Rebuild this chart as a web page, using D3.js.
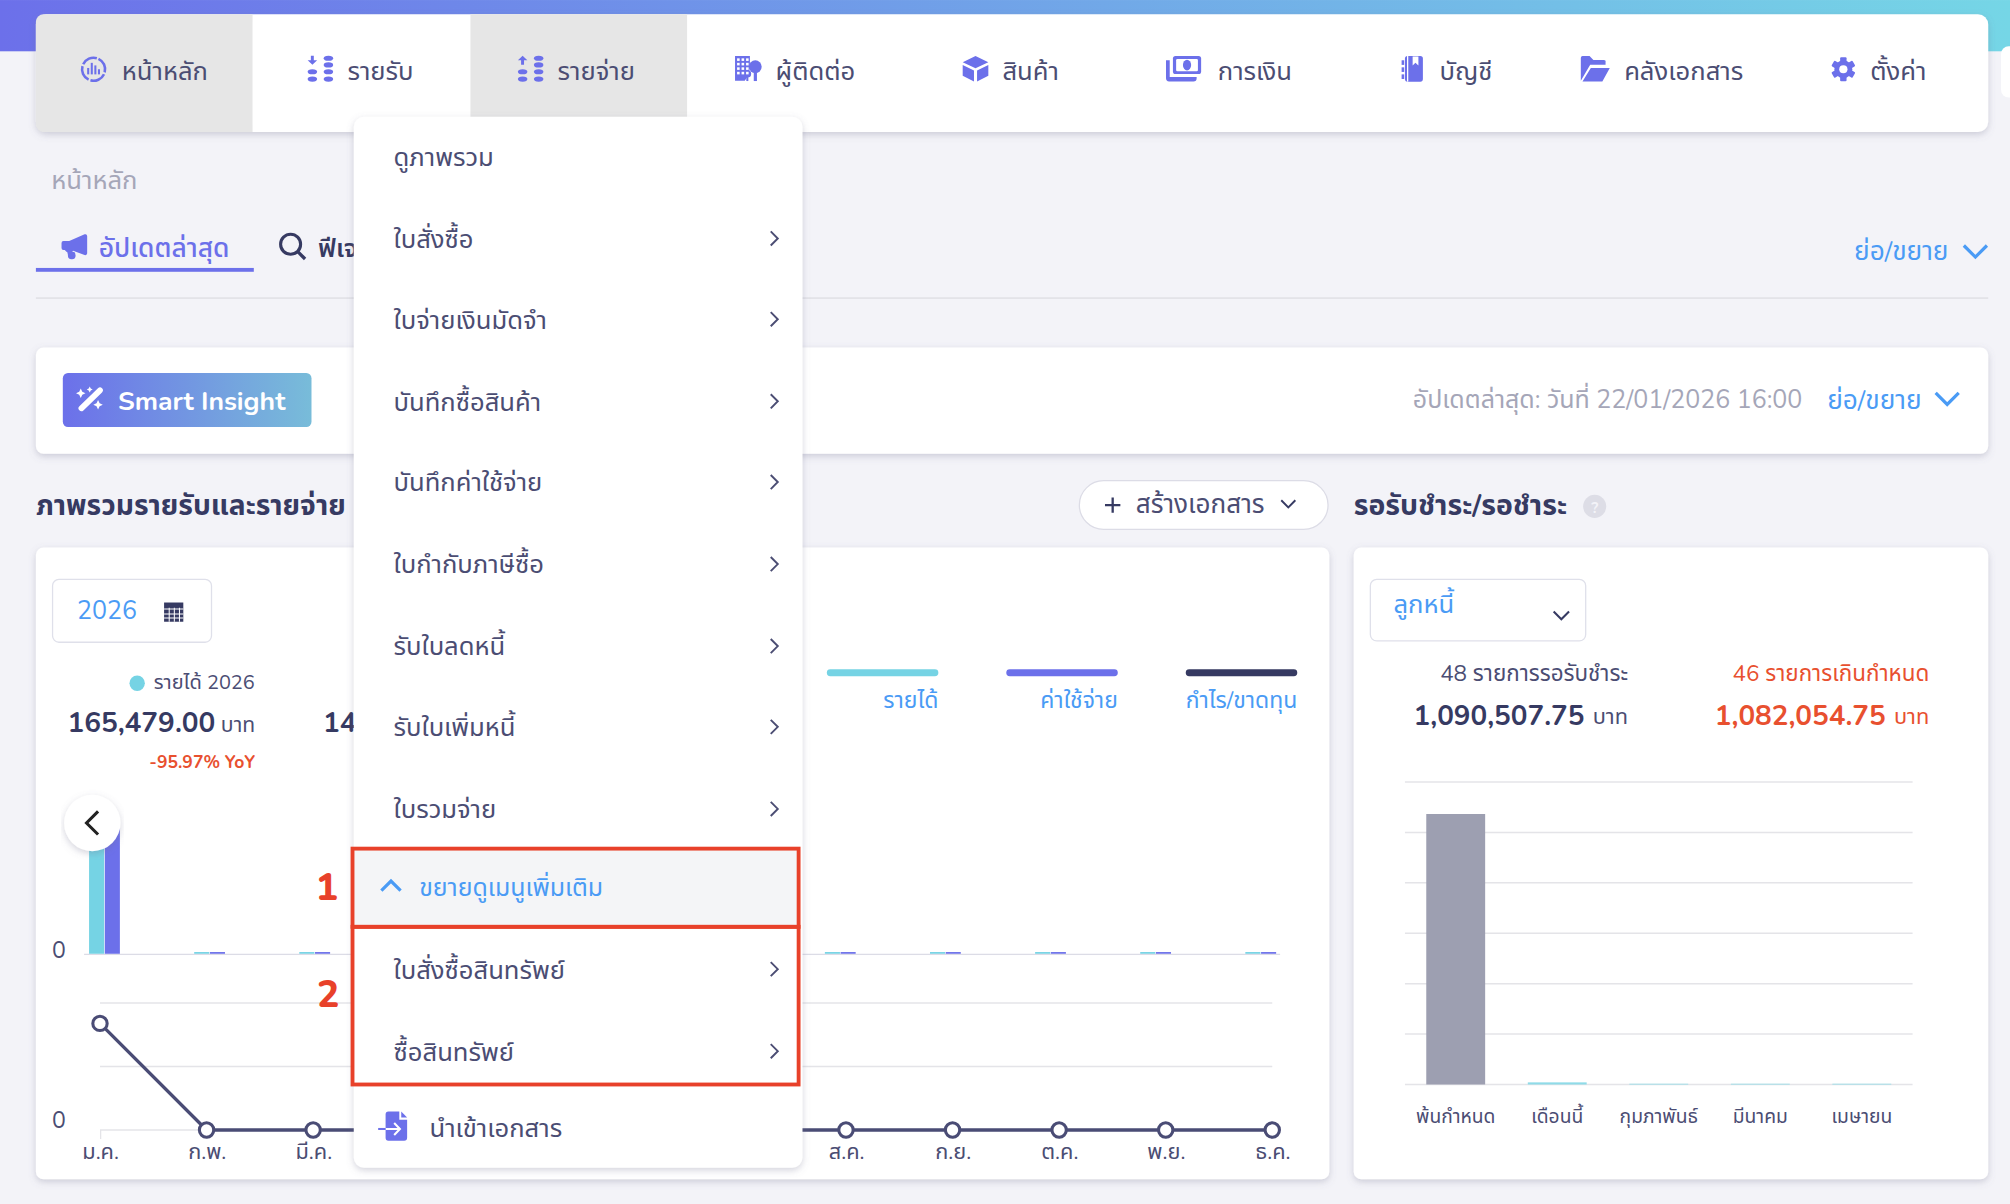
<!DOCTYPE html>
<html>
<head>
<meta charset="utf-8">
<style>
    html, body { margin: 0; padding: 0; background: #f3f3f8; }
    svg { display: block; }
    text { font-family: "Nunito", "Noto Sans Thai", "Noto Sans", "Open Sans", sans-serif; }
</style>
</head>
<body>
<div id="page"></div>
<script src="https://d3js.org/d3.v7.min.js"></script>
<script type="text/javascript">
    // chart data
    var months = ["ม.ค.", "ก.พ.", "มี.ค.", "เม.ย.", "พ.ค.", "มิ.ย.", "ก.ค.", "ส.ค.", "ก.ย.", "ต.ค.", "พ.ย.", "ธ.ค."];
    var incomeValues = [165479, 2000, 2000, 2000, 2000, 2000, 2000, 2000, 2000, 2000, 2000, 2000];
    var expenseValues = [148679, 2000, 2000, 2000, 2000, 2000, 2000, 2000, 2000, 2000, 2000, 2000];
    var profitValues = [16800, 0, 0, 0, 0, 0, 0, 0, 0, 0, 0, 0];
    var profitTicks = [0, 10000, 20000];

    var dueLabels = ["พ้นกำหนด", "เดือนนี้", "กุมภาพันธ์", "มีนาคม", "เมษายน"];
    var dueValues = [1073000, 8453, 3000, 3000, 3000];
    var dueTicks = [0, 200000, 400000, 600000, 800000, 1000000, 1200000];

    // page text
    var navLabels = ["หน้าหลัก", "รายรับ", "รายจ่าย", "ผู้ติดต่อ", "สินค้า", "การเงิน", "บัญชี", "คลังเอกสาร", "ตั้งค่า"];
    var navTextX = [95, 271, 435, 605, 782, 950, 1123, 1267, 1459];
    var navIconX = [73, 250, 414, 584, 761, 923, 1102, 1244, 1438];
    var menuLabels = ["ดูภาพรวม", "ใบสั่งซื้อ", "ใบจ่ายเงินมัดจำ", "บันทึกซื้อสินค้า", "บันทึกค่าใช้จ่าย", "ใบกำกับภาษีซื้อ", "รับใบลดหนี้", "รับใบเพิ่มหนี้", "ใบรวมจ่าย"];
    var menuY = [122, 186, 249, 313, 376, 440, 504, 567, 631];
    var extraLabels = ["ใบสั่งซื้อสินทรัพย์", "ซื้อสินทรัพย์"];
    var extraY = [756, 820];
    var legendLabels = ["รายได้", "ค่าใช้จ่าย", "กำไร/ขาดทุน"];
    var legendColors = ["#75d3e4", "#6c70ea", "#363a62"];
    var legendEnd = [732, 872, 1012];

    var w = 2010, h = 1204;
    var vw = 1568, vh = 939.2;
    var navy = "#363a62", purple = "#6c70ea", cyan = "#75d3e4", blue = "#4a9bf5", red = "#e8502f", grey = "#a5a6b8", ink = "#4b4d73";

    var svg = d3.select("#page").append("svg")
        .attr("width", w).attr("height", h)
        .attr("viewBox", "0 0 " + vw + " " + vh);

    var defs = svg.append("defs");
    var topGrad = defs.append("linearGradient").attr("id", "topGrad");
    topGrad.append("stop").attr("offset", "0%").attr("stop-color", "#6c70ea");
    topGrad.append("stop").attr("offset", "100%").attr("stop-color", "#75d6e6");
    var btn = defs.append("linearGradient").attr("id", "btnGrad");
    btn.append("stop").attr("offset", "0%").attr("stop-color", "#6c70ea");
    btn.append("stop").attr("offset", "100%").attr("stop-color", "#78bcd9");
    var fl = defs.append("filter").attr("id", "shadow").attr("x", "-5%").attr("y", "-10%").attr("width", "110%").attr("height", "125%");
    fl.append("feDropShadow").attr("dx", 0).attr("dy", 2).attr("stdDeviation", 3).attr("flood-color", "#70708a").attr("flood-opacity", 0.3);

    function label(g, str, x, y, size, color, opts) {
        opts = opts || {};
        return g.append("text").text(str)
            .attr("x", x).attr("y", y + 0.7)
            .attr("font-size", size)
            .attr("fill", color)
            .attr("dominant-baseline", "central")
            .attr("text-anchor", opts.anchor || "start")
            .attr("font-weight", opts.weight || 400);
    }

    function card(x, y, width, height, r) {
        svg.append("rect").attr("x", x).attr("y", y).attr("width", width).attr("height", height)
            .attr("rx", r || 6).attr("fill", "#fff").attr("filter", "url(#shadow)");
    }

    function chevron(g, x, y, size, dir, color, sw) {
        var d;
        if (dir == "down") d = "M" + (x - size) + "," + (y - size / 2) + "L" + x + "," + (y + size / 2) + "L" + (x + size) + "," + (y - size / 2);
        if (dir == "up") d = "M" + (x - size) + "," + (y + size / 2) + "L" + x + "," + (y - size / 2) + "L" + (x + size) + "," + (y + size / 2);
        if (dir == "right") d = "M" + (x - size / 2) + "," + (y - size) + "L" + (x + size / 2) + "," + y + "L" + (x - size / 2) + "," + (y + size);
        if (dir == "left") d = "M" + (x + size / 2) + "," + (y - size) + "L" + (x - size / 2) + "," + y + "L" + (x + size / 2) + "," + (y + size);
        g.append("path").attr("d", d).attr("fill", "none").attr("stroke", color).attr("stroke-width", sw || 1.5);
    }

    // background strip
    svg.append("rect").attr("width", vw).attr("height", 40).attr("fill", "url(#topGrad)");
    svg.append("rect").attr("x", 1561).attr("y", 36).attr("width", 20).attr("height", 40).attr("rx", 6).attr("fill", "#fff");

    // top nav
    card(28, 11, 1523, 92, 8);
    svg.append("path").attr("d", "M34,11H197V103H34a6,6 0 0 1 -6,-6V17a6,6 0 0 1 6,-6Z").attr("fill", "#e6e6e6");
    svg.append("rect").attr("x", 367).attr("y", 11).attr("width", 169).attr("height", 92).attr("fill", "#e6e6e6");
    var nav = svg.append("g");
    navLabels.forEach(function (d, i) {
        label(nav, d, navTextX[i], 55, 20, ink);
    });

    // nav icons, centred on navIconX at y = 54
    var ic = nav.append("g").attr("fill", purple);
    function icon(i) { return ic.append("g").attr("transform", "translate(" + navIconX[i] + ",54)"); }
    var i0 = icon(0);
    i0.append("circle").attr("r", 9).attr("fill", "none").attr("stroke", purple).attr("stroke-width", 2)
        .attr("stroke-dasharray", "12.5 1.6").attr("transform", "rotate(-65)");
    [-4.2, -1.4, 1.4, 4.2].forEach(function (d, i) {
        var hh = [5, 9, 7, 4][i];
        i0.append("rect").attr("x", d - 0.8).attr("y", 4 - hh).attr("width", 1.6).attr("height", hh);
    });
    [1, 2].forEach(function (k) {
        var g = icon(k);
        var up = k == 2;
        g.append("path").attr("d", up ? "M-7.5,-3.5V-7H-10L-6.3,-10.5L-2.6,-7H-5.2V-3.5Z" : "M-7.5,-10.5V-7H-10L-6.3,-3.5L-2.6,-7H-5.2V-10.5Z");
        [2, 7.7].forEach(function (y) {
            g.append("ellipse").attr("cx", -6.3).attr("cy", y).attr("rx", 3.7).attr("ry", 2);
        });
        [-8.6, -3.4, 2, 7.7].forEach(function (y) {
            g.append("ellipse").attr("cx", 6.2).attr("cy", y).attr("rx", 3.7).attr("ry", 2);
        });
    });
    var i3 = icon(3);
    i3.append("path").attr("d", "M-10.6,-10.3H1V-1A5,5 0 0 0 1,3L-3,9H-10.6Z");
    i3.append("circle").attr("cx", 5.2).attr("cy", -2).attr("r", 5);
    i3.append("path").attr("d", "M4,2H6.5V9.2H4Z");
    i3.append("circle").attr("cx", -1).attr("cy", 3.5).attr("r", 3);
    i3.append("path").attr("d", "M-1.8,5H-0.2V9.2H-1.8Z");
    [-8.5, -5, -1.5, 2].forEach(function (y) {
        [-9, -5.5, -2].forEach(function (x) {
            i3.append("rect").attr("x", x).attr("y", y).attr("width", 2).attr("height", 2).attr("fill", "#fff");
        });
    });
    icon(4).append("path").attr("d", "M0,-10.3L10,-5.5L0,-0.7L-10,-5.5ZM-10,-3.3L-1.2,1V9.5L-10,5ZM10,-3.3L1.2,1V9.5L10,5Z");
    var i5 = icon(5);
    i5.append("path").attr("d", "M-13.4,-7V7A2.5,2.5 0 0 0 -11,9.5H8A2.5,2.5 0 0 0 10.5,7V6H-10.5V-7Z");
    i5.append("rect").attr("x", -8).attr("y", -10.3).attr("width", 22).attr("height", 14).attr("rx", 2);
    i5.append("rect").attr("x", -5.5).attr("y", -8).attr("width", 17).attr("height", 9.5).attr("rx", 1).attr("fill", "#fff");
    i5.append("ellipse").attr("cx", 3).attr("cy", -3.3).attr("rx", 3.2).attr("ry", 4.2);
    var i6 = icon(6);
    i6.append("rect").attr("x", -6).attr("y", -10.3).attr("width", 14).attr("height", 20).attr("rx", 2);
    i6.append("rect").attr("x", -8.6).attr("y", -7).attr("width", 2).attr("height", 3.6);
    i6.append("rect").attr("x", -8.6).attr("y", -1.5).attr("width", 2).attr("height", 3.6);
    i6.append("rect").attr("x", -8.6).attr("y", 4).attr("width", 2).attr("height", 3.6);
    i6.append("rect").attr("x", -4.4).attr("y", -10.3).attr("width", 1).attr("height", 20).attr("fill", "#fff");
    i6.append("path").attr("d", "M0,-10H4.5V-3L2.2,-5L0,-3Z").attr("fill", "#fff");
    icon(7).append("path").attr("d", "M-10.8,9V-9A1.5,1.5 0 0 1 -9,-10.3H-4L-1,-7.3H7A1.5,1.5 0 0 1 8.5,-5.5V-3.5H-3.5ZM-9.5,9.5L-3,-1H11.8L6,9.5Z");
    var i8 = icon(8);
    i8.append("circle").attr("r", 7);
    d3.range(6).forEach(function (k) {
        i8.append("rect").attr("x", -2.5).attr("y", -9.4).attr("width", 5).attr("height", 5).attr("rx", 0.8).attr("transform", "rotate(" + k * 60 + ")");
    });
    i8.append("circle").attr("r", 3.2).attr("fill", "#fff");

    // breadcrumb and tabs
    label(svg, "หน้าหลัก", 40, 140, 20, grey);
    label(svg, "อัปเดตล่าสุด", 77, 193, 20.6, purple, { weight: 500 });
    svg.append("path").attr("d", "M48,189.5A1.5,1.5 0 0 1 49.5,188H54L66,182.8A1.5,1.5 0 0 1 68,184V197.5A1.5,1.5 0 0 1 66,199L57,195.5A4,4 0 0 1 50.5,195H49.5A1.5,1.5 0 0 1 48,193.5Z").attr("fill", purple);
    svg.append("path").attr("d", "M52,194.5L53,199A3,3 0 0 0 59,199.5L58.5,197").attr("fill", purple);
    svg.append("rect").attr("x", 28).attr("y", 209).attr("width", 170).attr("height", 3).attr("fill", purple);
    svg.append("circle").attr("cx", 226.7).attr("cy", 190.5).attr("r", 7.8).attr("fill", "none").attr("stroke", navy).attr("stroke-width", 2.4);
    svg.append("path").attr("d", "M232.5,196.5L238,202").attr("stroke", navy).attr("stroke-width", 2.6);
    label(svg, "ฟีเจอร์", 248, 193, 20, navy, { weight: 600 });
    label(svg, "ย่อ/ขยาย", 1520, 195, 20.5, blue, { anchor: "end" });
    chevron(svg, 1541, 196, 9, "down", blue, 2.5);
    svg.append("rect").attr("x", 28).attr("y", 232).attr("width", 1523).attr("height", 1).attr("fill", "#dcdce2");

    // smart insight bar
    card(28, 271, 1523, 83, 6);
    svg.append("rect").attr("x", 49).attr("y", 291).attr("width", 194).attr("height", 42).attr("rx", 4).attr("fill", "url(#btnGrad)");
    svg.append("path").attr("d", "M63.5,318.5L78,304.5").attr("stroke", "#fff").attr("stroke-width", 4.5).attr("stroke-linecap", "round");
    svg.append("path").attr("d", "M63,303l1.2,2.5l2.5,1.2l-2.5,1.2l-1.2,2.5l-1.2,-2.5l-2.5,-1.2l2.5,-1.2ZM70,301.5l0.8,1.5l1.5,0.8l-1.5,0.8l-0.8,1.5l-0.8,-1.5l-1.5,-0.8l1.5,-0.8ZM76.5,312l1.2,2.5l2.5,1.2l-2.5,1.2l-1.2,2.5l-1.2,-2.5l-2.5,-1.2l2.5,-1.2Z").attr("fill", "#fff");
    label(svg, "Smart Insight", 92, 312, 20.7, "#fff", { weight: 700 });
    label(svg, "อัปเดตล่าสุด: วันที่ 22/01/2026 16:00", 1406, 311, 19.5, grey, { anchor: "end" });
    label(svg, "ย่อ/ขยาย", 1499, 311, 20.5, blue, { anchor: "end" });
    chevron(svg, 1519, 311, 9, "down", blue, 2.5);

    // section headings
    label(svg, "ภาพรวมรายรับและรายจ่าย", 28, 394, 22, navy, { weight: 700 });
    svg.append("rect").attr("x", 842).attr("y", 375).attr("width", 194).attr("height", 38).attr("rx", 19).attr("fill", "#fff").attr("stroke", "#dcdce6");
    svg.append("path").attr("d", "M862,394H874M868,388V400").attr("stroke", navy).attr("stroke-width", 1.8);
    label(svg, "สร้างเอกสาร", 886, 393, 20.4, ink);
    chevron(svg, 1005, 393, 5.5, "down", navy, 1.5);
    label(svg, "รอรับชำระ/รอชำระ", 1056, 394, 22.2, navy, { weight: 700 });
    svg.append("circle").attr("cx", 1244).attr("cy", 395).attr("r", 9).attr("fill", "#dddde6");
    label(svg, "?", 1244, 395, 12, "#f3f3f8", { anchor: "middle", weight: 700 });

    // left card
    card(28, 427, 1009, 493, 6);
    svg.append("rect").attr("x", 41).attr("y", 452).attr("width", 124).attr("height", 49).attr("rx", 5).attr("fill", "#fff").attr("stroke", "#dfe0ea");
    label(svg, "2026", 60, 476, 19.5, blue);
    svg.append("rect").attr("x", 128).attr("y", 470).attr("width", 15).attr("height", 15).attr("fill", navy);
    svg.append("path").attr("d", "M128,475H143M128,479H143M128,482H143M132,474V485M136,474V485M140,474V485").attr("stroke", "#fff").attr("stroke-width", 0.8);
    svg.append("circle").attr("cx", 107).attr("cy", 533).attr("r", 6).attr("fill", cyan);
    label(svg, "รายได้ 2026", 120, 532, 15.6, ink);
    label(svg, "165,479.00", 168, 563, 21.8, navy, { anchor: "end", weight: 700 });
    label(svg, "บาท", 199, 565, 16.5, ink, { anchor: "end" });
    label(svg, "-95.97% YoY", 199, 594, 13.7, red, { anchor: "end", weight: 700 });
    label(svg, "14", 252, 563, 21.8, navy, { weight: 700 });

    legendLabels.forEach(function (d, i) {
        svg.append("rect").attr("x", legendEnd[i] - 87).attr("y", 522).attr("width", 87).attr("height", 5.5).attr("rx", 2.7).attr("fill", legendColors[i]);
        label(svg, d, legendEnd[i], 546, 17.9, blue, { anchor: "end" });
    });

    // monthly bars
    var x0 = d3.scaleBand().domain(months).range([40.5, 1024.5]).paddingInner(0.707).paddingOuter(0.3535);
    var x1 = d3.scaleBand().domain([0, 1]).range([0, x0.bandwidth()]).paddingInner(0.04);
    var yBar = d3.scaleLinear().domain([0, 165479]).range([744, 634]);

    svg.append("rect").attr("x", 65.6).attr("y", 744).attr("width", 933).attr("height", 1).attr("fill", "#dcdce6");
    var barG = svg.append("g").selectAll("g").data(months).enter().append("g")
        .attr("transform", function (d) { return "translate(" + x0(d) + ",0)"; });
    barG.append("rect")
        .attr("x", x1(0)).attr("width", x1.bandwidth())
        .attr("y", function (d, i) { return yBar(incomeValues[i]); })
        .attr("height", function (d, i) { return yBar(0) - yBar(incomeValues[i]); })
        .attr("fill", cyan);
    barG.append("rect")
        .attr("x", x1(1)).attr("width", x1.bandwidth())
        .attr("y", function (d, i) { return yBar(expenseValues[i]); })
        .attr("height", function (d, i) { return yBar(0) - yBar(expenseValues[i]); })
        .attr("fill", purple);
    label(svg, "0", 46, 741, 18, ink, { anchor: "middle" });

    // profit line
    var xLine = d3.scalePoint().domain(months).range([78, 992.5]);
    var yLine = d3.scaleLinear().domain([0, 20000]).range([881.5, 782.5]);

    svg.append("g").selectAll("line").data(profitTicks).enter().append("line")
        .attr("x1", 78).attr("x2", 992.5)
        .attr("y1", function (d) { return yLine(d); })
        .attr("y2", function (d) { return yLine(d); })
        .attr("stroke", "#e4e4e8").attr("stroke-width", 1.2);

    var axisLine = svg.append("g").attr("transform", "translate(0,881.5)")
        .call(d3.axisBottom(xLine).tickSize(7).tickPadding(3.5));
    axisLine.select(".domain").remove();
    axisLine.selectAll("line").attr("stroke", "#e4e4e8");
    axisLine.selectAll("text").attr("font-size", 17).attr("fill", ink);
    // the open menu covers these month labels
    axisLine.selectAll(".tick").filter(function (d) { return xLine(d) > 276 && xLine(d) < 626; }).select("text").remove();

    var lineGen = d3.line()
        .x(function (d, i) { return xLine(months[i]); })
        .y(function (d) { return yLine(d); });
    svg.append("path").datum(profitValues).attr("d", lineGen)
        .attr("fill", "none").attr("stroke", "#4a4c75").attr("stroke-width", 2.6);
    svg.append("g").selectAll("circle").data(profitValues).enter().append("circle")
        .attr("cx", function (d, i) { return xLine(months[i]); })
        .attr("cy", function (d) { return yLine(d); })
        .attr("r", 5.6)
        .attr("fill", "#fff").attr("stroke", "#4a4c75").attr("stroke-width", 2.4);
    label(svg, "0", 46, 873, 18, ink, { anchor: "middle" });

    // carousel back button
    svg.append("circle").attr("cx", 72).attr("cy", 642).attr("r", 22).attr("fill", "#fff").attr("filter", "url(#shadow)");
    chevron(svg, 72, 642, 9, "left", "#222", 2.4);

    // right card
    card(1056, 427, 495, 493, 6);
    svg.append("rect").attr("x", 1069).attr("y", 452).attr("width", 168).attr("height", 48).attr("rx", 5).attr("fill", "#fff").attr("stroke", "#dfe0ea");
    label(svg, "ลูกหนี้", 1087, 471, 20, blue);
    chevron(svg, 1218, 480, 6, "down", navy, 1.6);
    label(svg, "48 รายการรอรับชำระ", 1270, 525, 17.5, ink, { anchor: "end" });
    label(svg, "1,090,507.75", 1236, 558, 21.7, navy, { anchor: "end", weight: 700 });
    label(svg, "บาท", 1270, 559, 17, ink, { anchor: "end" });
    label(svg, "46 รายการเกินกำหนด", 1505, 525, 17.5, red, { anchor: "end" });
    label(svg, "1,082,054.75", 1471, 558, 21.7, red, { anchor: "end", weight: 700 });
    label(svg, "บาท", 1505, 559, 17, red, { anchor: "end" });

    var xDue = d3.scaleBand().domain(dueLabels).range([1096, 1492]).paddingInner(0.42).paddingOuter(0.21);
    var yDue = d3.scaleLinear().domain([0, 1200000]).range([846, 610]);

    svg.append("g").selectAll("line").data(dueTicks).enter().append("line")
        .attr("x1", 1096).attr("x2", 1492)
        .attr("y1", function (d) { return yDue(d); })
        .attr("y2", function (d) { return yDue(d); })
        .attr("stroke", "#e4e4e8").attr("stroke-width", 1.2);

    svg.append("g").selectAll("rect").data(dueValues).enter().append("rect")
        .attr("x", function (d, i) { return xDue(dueLabels[i]); })
        .attr("width", xDue.bandwidth())
        .attr("y", function (d) { return yDue(d); })
        .attr("height", function (d) { return yDue(0) - yDue(d); })
        .attr("fill", function (d, i) { return i == 0 ? "#9d9fb1" : "#8fdbe8"; });

    var axisDue = svg.append("g").attr("transform", "translate(0,846)")
        .call(d3.axisBottom(xDue).tickSize(0).tickPadding(19.5));
    axisDue.select(".domain").remove();
    axisDue.selectAll("text").attr("font-size", 15).attr("fill", ink);

    // dropdown menu on top of everything
    card(276, 91, 350, 820, 8);
    var menu = svg.append("g");
    menuLabels.forEach(function (d, i) {
        label(menu, d, 307, menuY[i], 20, ink);
        if (i > 0) chevron(menu, 604, menuY[i], 5.5, "right", ink, 1.5);
    });
    menu.append("rect").attr("x", 275).attr("y", 662).attr("width", 348).attr("height", 61).attr("fill", "#f4f5f7").attr("stroke", "#e8412a").attr("stroke-width", 3);
    menu.append("rect").attr("x", 275).attr("y", 723).attr("width", 348).attr("height", 123).attr("fill", "none").attr("stroke", "#e8412a").attr("stroke-width", 3);
    chevron(menu, 305, 691, 7.5, "up", blue, 2.5);
    label(menu, "ขยายดูเมนูเพิ่มเติม", 327, 692, 19.4, blue);
    extraLabels.forEach(function (d, i) {
        label(menu, d, 307, extraY[i], 20, ink);
        chevron(menu, 604, extraY[i], 5.5, "right", ink, 1.5);
    });
    menu.append("path").attr("d", "M303,867H311.5V873.5H317.6V887.5A2.3,2.3 0 0 1 315.3,889.8H303A2.3,2.3 0 0 1 300.8,887.5V869.3A2.3,2.3 0 0 1 303,867Z").attr("fill", purple);
    menu.append("path").attr("d", "M313,867L317.6,871.8H313Z").attr("fill", purple);
    menu.append("path").attr("d", "M300.8,880.7H312M307.5,876L312,880.7L307.5,885.4").attr("fill", "none").attr("stroke", "#fff").attr("stroke-width", 1.6);
    menu.append("path").attr("d", "M295,880.7H300.8").attr("stroke", purple).attr("stroke-width", 1.6);
    label(menu, "นำเข้าเอกสาร", 335, 880, 20, ink);
    label(svg, "1", 255, 692, 29, "#e8412a", { anchor: "middle", weight: 800 });
    label(svg, "2", 256, 775, 29, "#e8412a", { anchor: "middle", weight: 800 });
</script>
</body>
</html>
